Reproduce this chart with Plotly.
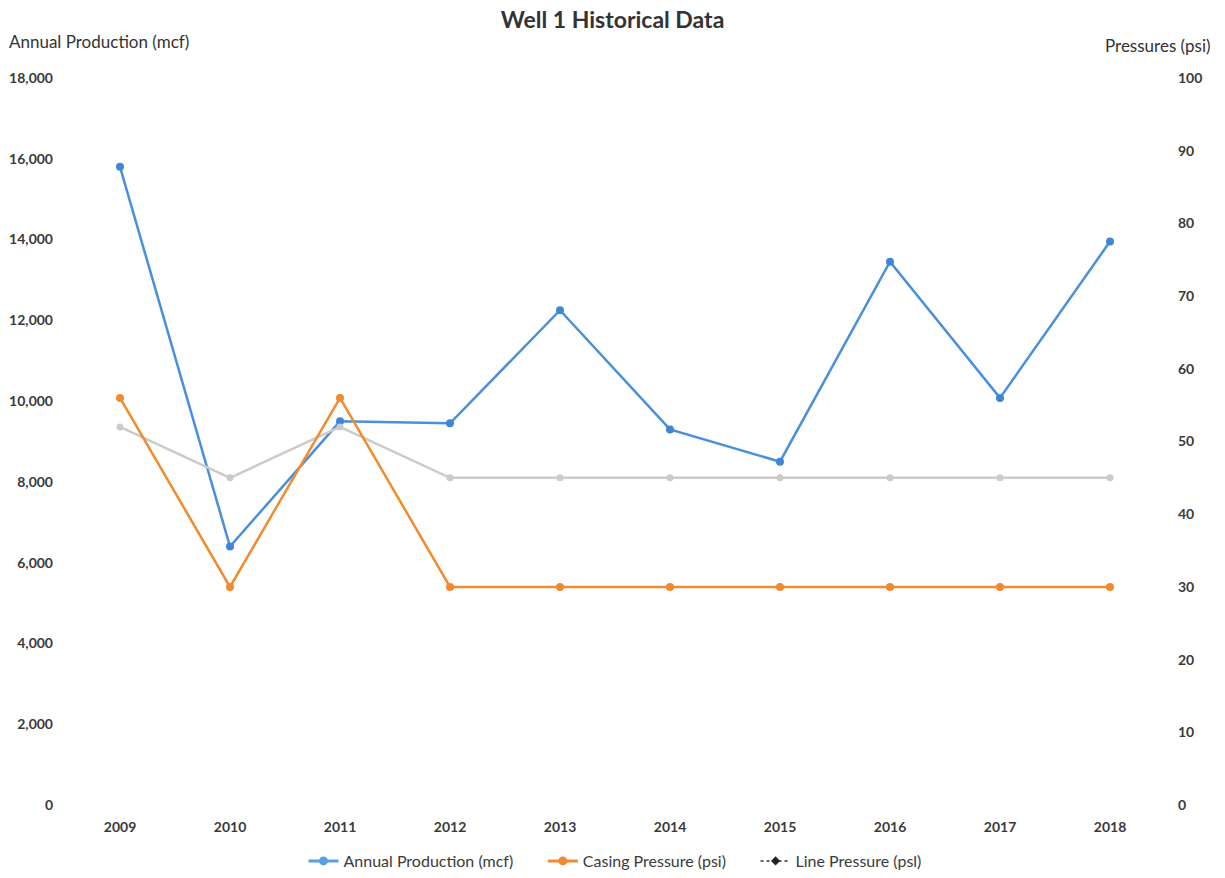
import plotly.graph_objects as go

years = ["2009", "2010", "2011", "2012", "2013", "2014", "2015", "2016", "2017", "2018"]
production = [15800, 6400, 9500, 9450, 12250, 9300, 8500, 13450, 10080, 13950]
casing = [56, 30, 56, 30, 30, 30, 30, 30, 30, 30]
line_p = [52, 45, 52, 45, 45, 45, 45, 45, 45, 45]
left_ticks = [0, 2000, 4000, 6000, 8000, 10000, 12000, 14000, 16000, 18000]
right_ticks = [0, 10, 20, 30, 40, 50, 60, 70, 80, 90, 100]

FONT = "Lato, 'Open Sans', sans-serif"
TXT = "#3a3a3a"
PAD = "\u00a0" * 6

fig = go.Figure()
fig.add_trace(go.Scatter(x=years, y=line_p, name="Line Pressure (psi)", yaxis="y2",
                         mode="lines+markers", line=dict(color="#cbcbcb", width=2.5),
                         marker=dict(color="#cbcbcb", size=7), showlegend=False))
fig.add_trace(go.Scatter(x=years, y=casing, name="Casing Pressure (psi)", yaxis="y2",
                         mode="lines+markers", line=dict(color="#f28a2e", width=2.5),
                         marker=dict(color="#f28a2e", size=8), showlegend=False))
fig.add_trace(go.Scatter(x=years, y=production, name="Annual Production (mcf)",
                         mode="lines+markers", line=dict(color="#4a8fdc", width=2.5),
                         marker=dict(color="#3f86d6", size=8), showlegend=False))
# legend entries
fig.add_trace(go.Scatter(x=[None], y=[None], name="Annual Production (mcf)" + PAD, mode="lines+markers",
                         line=dict(color="#5a9fe3", width=3), marker=dict(color="#5a9fe3", size=9)))
fig.add_trace(go.Scatter(x=[None], y=[None], name="Casing Pressure (psi)" + PAD, mode="lines+markers",
                         line=dict(color="#f28a2e", width=3), marker=dict(color="#f28a2e", size=9)))
fig.add_trace(go.Scatter(x=[None], y=[None], name="Line Pressure (psl)", mode="lines+markers",
                         line=dict(color="#333333", width=1.5, dash="dot"),
                         marker=dict(color="#222222", size=7, symbol="diamond")))

fig.update_layout(
    width=1225, height=878,
    margin=dict(l=65, r=60, t=78, b=73, autoexpand=False),
    paper_bgcolor="white", plot_bgcolor="white",
    font=dict(family=FONT, size=14, color=TXT),
    title=dict(text="<b>Well 1 Historical Data</b>", x=0.5, xanchor="center", y=0.977, yanchor="middle",
               font=dict(size=23, color="#333333", family=FONT)),
    xaxis=dict(type="category", range=[-0.5, 9.5], showgrid=False, showline=False, zeroline=False,
               ticks="", tickfont=dict(size=14, color=TXT, weight="bold"), ticklabelstandoff=12),
    yaxis=dict(range=[0, 18000], tickvals=left_ticks, tickformat=",", showgrid=False, zeroline=False,
               showline=False, ticks="", tickfont=dict(size=14, color=TXT, weight="bold"), ticklabelstandoff=11),
    yaxis2=dict(range=[0, 100], tickvals=right_ticks, overlaying="y", side="right", showgrid=False,
                zeroline=False, showline=False, ticks="", tickfont=dict(size=14, color=TXT, weight="bold"),
                ticklabelstandoff=12),
    legend=dict(orientation="h", x=0.5, xanchor="center", yref="container", y=(878 - 861) / 878,
                yanchor="middle", font=dict(size=16, color=TXT), traceorder="normal"),
    annotations=[
        dict(text="Annual Production (mcf)", xref="paper", yref="paper", x=-58/1100, y=1 + 36/727,
             xanchor="left", yanchor="middle", showarrow=False, font=dict(size=17, color="#333333")),
        dict(text="Pressures (psi)", xref="paper", yref="paper", x=1 + 48/1100, y=1 + 33/727,
             xanchor="right", yanchor="middle", showarrow=False, font=dict(size=17, color="#333333")),
    ],
)

fig.write_html("out.html")
